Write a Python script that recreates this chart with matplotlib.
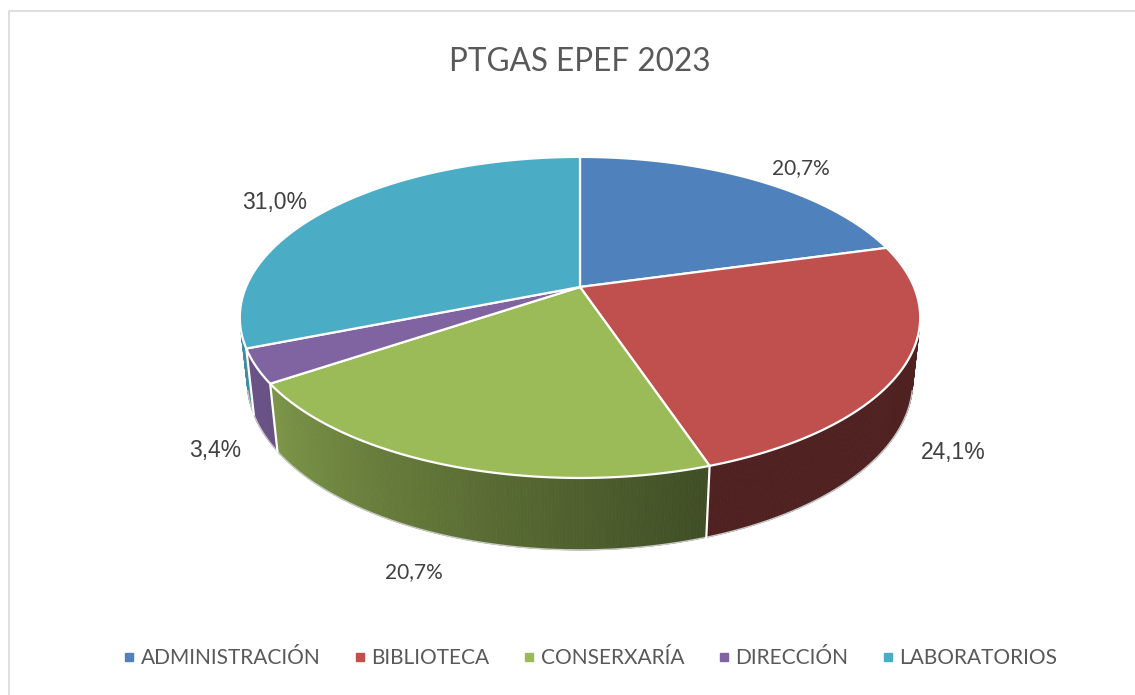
import numpy as np
import matplotlib
matplotlib.use("Agg")
import matplotlib.pyplot as plt
from matplotlib.patches import Polygon
from matplotlib.lines import Line2D
from matplotlib.colors import to_rgb

# data (share of staff, %)
categories = ["ADMINISTRACIÓN", "BIBLIOTECA", "CONSERXARÍA", "DIRECCIÓN", "LABORATORIOS"]
values = [20.7, 24.1, 20.7, 3.4, 31.0]
labels = ["20,7%", "24,1%", "20,7%", "3,4%", "31,0%"]
colors = ["#4F81BD", "#C0504D", "#9BBB59", "#8064A2", "#4BACC6"]

# label anchors in pixels (Excel "best fit" placement) and their font
label_pos = [(801, 168), (953, 452), (414, 572), (215, 451), (275, 202)]
label_font = ["Lato", "Liberation Sans", "Lato", "Liberation Sans", "Liberation Sans"]
label_size = [15, 16.5, 15, 16.5, 16.5]

W, H = 1135, 695

# 3D pie geometry (screen pixels), perspective camera
CX, CY = 580, 287          # apex of the pie on screen
SCALE = 334                # screen radius scale
ELEV = np.radians(27.6)    # camera elevation
RD = 0.214                 # radius / camera distance
THICK = 0.216              # pie thickness in radii


def proj(theta, r=1.0, z=0.0):
    """theta clockwise from the far side, r in radii, z height (0 = top)."""
    X = r * np.sin(theta)
    Y = r * np.cos(theta)
    den = 1 + RD * (Y * np.cos(ELEV) - z * np.sin(ELEV))
    sx = SCALE * X / den
    sy = SCALE * (Y * np.sin(ELEV) + z * np.cos(ELEV)) / den
    return CX + sx, CY - sy


def shade(theta):
    # lighting from the left: right-front wall dark, left-front lighter
    t = np.clip((np.degrees(theta) - 161) / 79.0, 0, 1)
    return 0.41 + 0.41 * t


fig = plt.figure(figsize=(W / 100, H / 100), dpi=100)
ax = fig.add_axes([0, 0, 1, 1])
ax.set_xlim(0, W)
ax.set_ylim(H, 0)
ax.axis("off")

# chart border
ax.plot([8.5, 8.5, W + 5], [H + 5, 10.5, 10.5], color="#D9D9D9", lw=1.2)

frac = np.array(values) / sum(values)
bounds = np.concatenate([[0], np.cumsum(frac)]) * 2 * np.pi

# visible wall range (normal faces camera)
c_lim = -RD / np.cos(ELEV)
vis0 = np.arccos(c_lim)
vis1 = 2 * np.pi - vis0

# side walls
for i, col in enumerate(colors):
    a0, a1 = max(bounds[i], vis0), min(bounds[i + 1], vis1)
    if a1 <= a0:
        continue
    n = max(2, int(np.degrees(a1 - a0) * 2))
    th = np.linspace(a0, a1, n + 1)
    base = np.array(to_rgb(col))
    for j in range(n):
        t2 = th[j:j + 2]
        xt, yt = proj(t2)
        xb, yb = proj(t2[::-1], z=-THICK)
        c = base * shade(t2.mean())
        ax.add_patch(Polygon(np.column_stack([np.r_[xt, xb], np.r_[yt, yb]]),
                             closed=True, facecolor=c, edgecolor=c, lw=0.6))

# outer faint silhouette on the bottom edge
thb = np.linspace(vis0, vis1, 300)
xb, yb = proj(thb, z=-THICK)
ax.plot(xb, yb, color="#C8C8C8", lw=1.0)

# white vertical seams between slices on the wall
for b in bounds[1:-1]:
    if vis0 < b < vis1:
        x0, y0 = proj(b)
        x1, y1 = proj(b, z=-THICK)
        ax.plot([x0, x1], [y0, y1], color="white", lw=1.6)

# top faces
for i, col in enumerate(colors):
    th = np.linspace(bounds[i], bounds[i + 1], 200)
    xs, ys = proj(th)
    pts = np.column_stack([np.r_[CX, xs], np.r_[CY, ys]])
    ax.add_patch(Polygon(pts, closed=True, facecolor=col, edgecolor="white",
                         lw=1.6, joinstyle="round"))

# faint gray outline on the back of the top face
tht = np.linspace(vis1 - 2 * np.pi, vis0, 300)
xt, yt = proj(tht)
ax.plot(xt, yt, color="#D0D0D0", lw=0.8, zorder=0.5)

# data labels
for (lx, ly), txt, fam, fs in zip(label_pos, labels, label_font, label_size):
    ax.text(lx, ly, txt, ha="center", va="center", fontsize=fs,
            family=fam, color="#404040")

# title
ax.text(CX, 62, "PTGAS EPEF 2023", ha="center", va="center",
        fontsize=22.7, family="Lato", color="#595959")

# legend
handles = [Line2D([], [], marker="s", ls="none", markersize=6,
                  markerfacecolor=c, markeredgecolor=c) for c in colors]
leg = ax.legend(handles, categories, loc="center", bbox_to_anchor=(589 / W, 1 - 658 / H),
                ncol=5, frameon=False, handletextpad=0.15, columnspacing=1.5,
                handlelength=0.8, prop={"family": "Lato", "size": 15})
for t in leg.get_texts():
    t.set_color("#595959")

fig.savefig("out.png", dpi=100)
